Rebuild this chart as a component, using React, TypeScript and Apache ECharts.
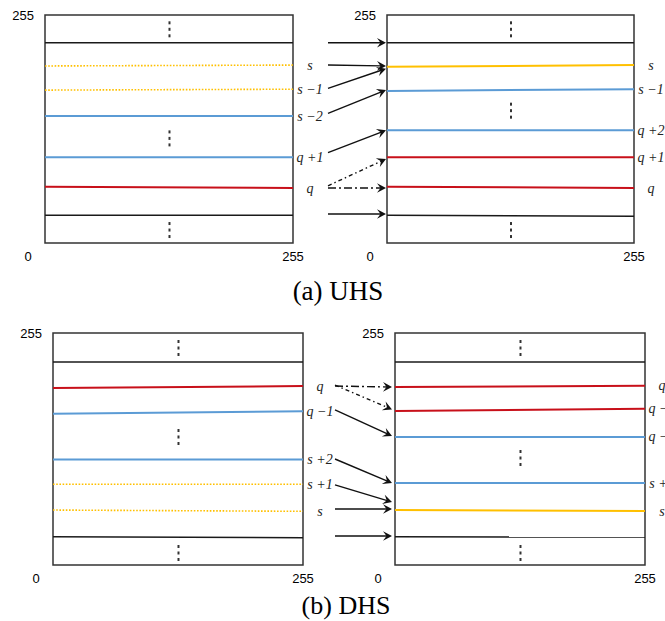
import React, { useEffect, useRef } from 'react';
import * as echarts from 'echarts';

// ---- data (values on the 0..255 grey-level scale) ----
// Panel (a) left: original histogram levels
const aLeftNames = ['', 's', 's −1', 's −2', 'q +1', 'q', ''];
const aLeftStart = [224, 198, 171, 142, 96, 63, 31];
const aLeftEnd = [224, 199, 172, 142, 96, 61.5, 31];
const aLeftKinds = ['black', 'yellowDot', 'yellowDot', 'blue', 'blue', 'red', 'black'];

// Panel (a) right: shifted levels
const aRightNames = ['', 's', 's −1', 'q +2', 'q +1', 'q', ''];
const aRightStart = [224, 197, 170, 126, 96, 63, 31];
const aRightEnd = [224, 199, 172, 126, 96, 61.5, 30];
const aRightKinds = ['black', 'yellow', 'blue', 'blue', 'red', 'red', 'black'];

// Panel (b) left
const bLeftNames = ['', 'q', 'q −1', 's +2', 's +1', 's', ''];
const bLeftStart = [223, 194.5, 166.3, 116, 88.7, 60.4, 31];
const bLeftEnd = [223, 196.7, 168.9, 116, 88.7, 59, 30];
const bLeftKinds = ['black', 'red', 'blue', 'blue', 'yellowDot', 'yellowDot', 'black'];

// Panel (b) right
const bRightNames = ['', 'q', 'q −1', 'q −2', 's +1', 's', ''];
const bRightStart = [223, 195.6, 169.3, 140.7, 90, 60.4, 31];
const bRightEnd = [223, 197, 171.8, 140.7, 90, 59.3, 30.8];
const bRightKinds = ['black', 'red', 'red', 'blue', 'blue', 'yellow', 'black'];

// vertical ellipsis centres (x = 128)
const ellipsisX = 128;
const ellipsisA1 = [239, 117, 14.5];
const ellipsisA2 = [239, 148, 14.5];
const ellipsisB1 = [238.5, 140.7, 13.2];
const ellipsisB2 = [238.5, 117.6, 13.2];

// mapping arrows (from left-panel level to right-panel level)
const aArrowFrom = [224, 199, 173, 145, 101, 64, 61.5, 32.4];
const aArrowTo = [224, 198, 195, 171, 126, 94, 61.5, 32.4];
const aArrowKinds = ['solid', 'solid', 'solid', 'solid', 'solid', 'dashdotFine', 'dashdot', 'solid'];

const bArrowFrom = [196.7, 197.8, 170.4, 116.5, 88, 61.5, 31.9];
const bArrowTo = [195.6, 171, 141.8, 90.1, 69.2, 61.5, 31.9];
const bArrowKinds = ['dashdot', 'dashdotFine', 'solid', 'solid', 'solid', 'solid', 'solid'];

const captions = ['(a) UHS', '(b) DHS'];

// ---- styles ----
const lineStyles: Record<string, any> = {
  black: { color: '#1a1a1a', width: 1.5, type: 'solid' },
  blue: { color: '#5B9BD5', width: 2, type: 'solid' },
  red: { color: '#C8101A', width: 2, type: 'solid' },
  yellow: { color: '#FFC000', width: 2, type: 'solid' },
  yellowDot: { color: '#FFC000', width: 1.6, type: 'dotted' },
};
const arrowDash: Record<string, any> = {
  solid: null,
  dashdot: [8, 3, 2, 3],
  dashdotFine: [4, 3, 1.5, 3],
};

const grids = [
  { left: 45, top: 15, width: 248, height: 228 },
  { left: 387, top: 15, width: 247, height: 228 },
  { left: 53, top: 333, width: 250, height: 232 },
  { left: 395, top: 333, width: 250, height: 232 },
];

const panels = [
  { names: aLeftNames, start: aLeftStart, end: aLeftEnd, kinds: aLeftKinds, dots: ellipsisA1 },
  { names: aRightNames, start: aRightStart, end: aRightEnd, kinds: aRightKinds, dots: ellipsisA2 },
  { names: bLeftNames, start: bLeftStart, end: bLeftEnd, kinds: bLeftKinds, dots: ellipsisB1 },
  { names: bRightNames, start: bRightStart, end: bRightEnd, kinds: bRightKinds, dots: ellipsisB2 },
];

const axisFont = { fontFamily: 'Liberation Sans', fontSize: 13, color: '#000' };

function buildOption() {
  const series: any[] = [];
  panels.forEach((p, gi) => {
    p.names.forEach((name, k) => {
      series.push({
        type: 'line',
        name: name || `edge${gi}_${k}`,
        xAxisIndex: gi,
        yAxisIndex: gi,
        data: [
          [0, p.start[k]],
          [255, p.end[k]],
        ],
        showSymbol: false,
        symbol: 'none',
        silent: true,
        lineStyle: lineStyles[p.kinds[k]],
        endLabel: {
          show: !!name,
          formatter: () => name,
          distance: 17,
          align: 'center',
          verticalAlign: 'middle',
          fontFamily: '"Liberation Serif", serif',
          fontStyle: 'italic',
          fontSize: 14,
          color: '#222',
        },
      });
    });
  });
  return {
    animation: false,
    backgroundColor: '#fff',
    grid: grids.map((g) => ({
      ...g,
      show: true,
      borderColor: '#333',
      borderWidth: 1.5,
      backgroundColor: 'transparent',
    })),
    xAxis: grids.map((_, i) => ({
      type: 'value',
      gridIndex: i,
      min: 0,
      max: 255,
      interval: 255,
      axisLine: { show: false },
      axisTick: { show: false },
      splitLine: { show: false },
      axisLabel: {
        ...axisFont,
        margin: 7,
        formatter: (v: number) => (v === 0 ? '{o|0}' : String(v)),
        rich: { o: { ...axisFont, padding: [0, 34, 0, 0] } },
      },
    })),
    yAxis: grids.map((_, i) => ({
      type: 'value',
      gridIndex: i,
      min: 0,
      max: 255,
      interval: 255,
      axisLine: { show: false },
      axisTick: { show: false },
      splitLine: { show: false },
      axisLabel: {
        ...axisFont,
        margin: 11,
        formatter: (v: number) => (v === 255 ? '255' : ''),
      },
    })),
    series,
  };
}

function arrowGraphics(
  chart: any,
  fromGrid: number,
  toGrid: number,
  from: number[],
  to: number[],
  kinds: string[],
  startGap: number,
  endGap: number
) {
  const out: any[] = [];
  from.forEach((fv, i) => {
    const s = chart.convertToPixel({ gridIndex: fromGrid }, [255, fv]);
    const e = chart.convertToPixel({ gridIndex: toGrid }, [0, to[i]]);
    const x1 = s[0] + startGap;
    const y1 = s[1];
    const x2 = e[0] - endGap;
    const y2 = e[1];
    const ang = Math.atan2(y2 - y1, x2 - x1);
    const c = Math.cos(ang);
    const sn = Math.sin(ang);
    const rot = (px: number, py: number) => [x2 + px * c - py * sn, y2 + px * sn + py * c];
    const lx = x2 - 5 * c;
    const ly = y2 - 5 * sn;
    out.push({
      type: 'line',
      silent: true,
      shape: { x1, y1, x2: lx, y2: ly },
      style: { stroke: '#111', lineWidth: 1.4, lineDash: arrowDash[kinds[i]] || undefined },
    });
    out.push({
      type: 'polygon',
      silent: true,
      shape: { points: [rot(0, 0), rot(-9, -4.8), rot(-5.5, 0), rot(-9, 4.8)] },
      style: { fill: '#111' },
    });
  });
  return out;
}

export default function App() {
  const ref = useRef<HTMLDivElement>(null);
  useEffect(() => {
    if (!ref.current) return;
    const chart = echarts.init(ref.current, null, { renderer: 'svg' });
    chart.setOption(buildOption());
    const g: any[] = [];
    // vertical ellipses
    panels.forEach((p, gi) => {
      p.dots.forEach((v) => {
        const c = chart.convertToPixel({ gridIndex: gi }, [ellipsisX, v]);
        [-6.5, 0, 6.5].forEach((off) => {
          g.push({
            type: 'rect',
            silent: true,
            shape: { x: c[0] - 1, y: c[1] + off - 1.5, width: 2, height: 3 },
            style: { fill: '#333' },
          });
        });
      });
    });
    g.push(...arrowGraphics(chart, 0, 1, aArrowFrom, aArrowTo, aArrowKinds, 35, 1));
    g.push(...arrowGraphics(chart, 2, 3, bArrowFrom, bArrowTo, bArrowKinds, 32, 3));
    g.push({
      type: 'text',
      silent: true,
      style: {
        text: captions[0],
        x: 338,
        y: 291,
        align: 'center',
        verticalAlign: 'middle',
        font: '27px "Liberation Serif"',
        fill: '#000',
      },
    });
    g.push({
      type: 'text',
      silent: true,
      style: {
        text: captions[1],
        x: 346,
        y: 605,
        align: 'center',
        verticalAlign: 'middle',
        font: '26px "Liberation Serif"',
        fill: '#000',
      },
    });
    chart.setOption({ graphic: g });
    return () => chart.dispose();
  }, []);
  return (
    <div
      ref={ref}
      style={{ position: 'absolute', left: 0, top: 0, width: 665, height: 621 }}
    />
  );
}
